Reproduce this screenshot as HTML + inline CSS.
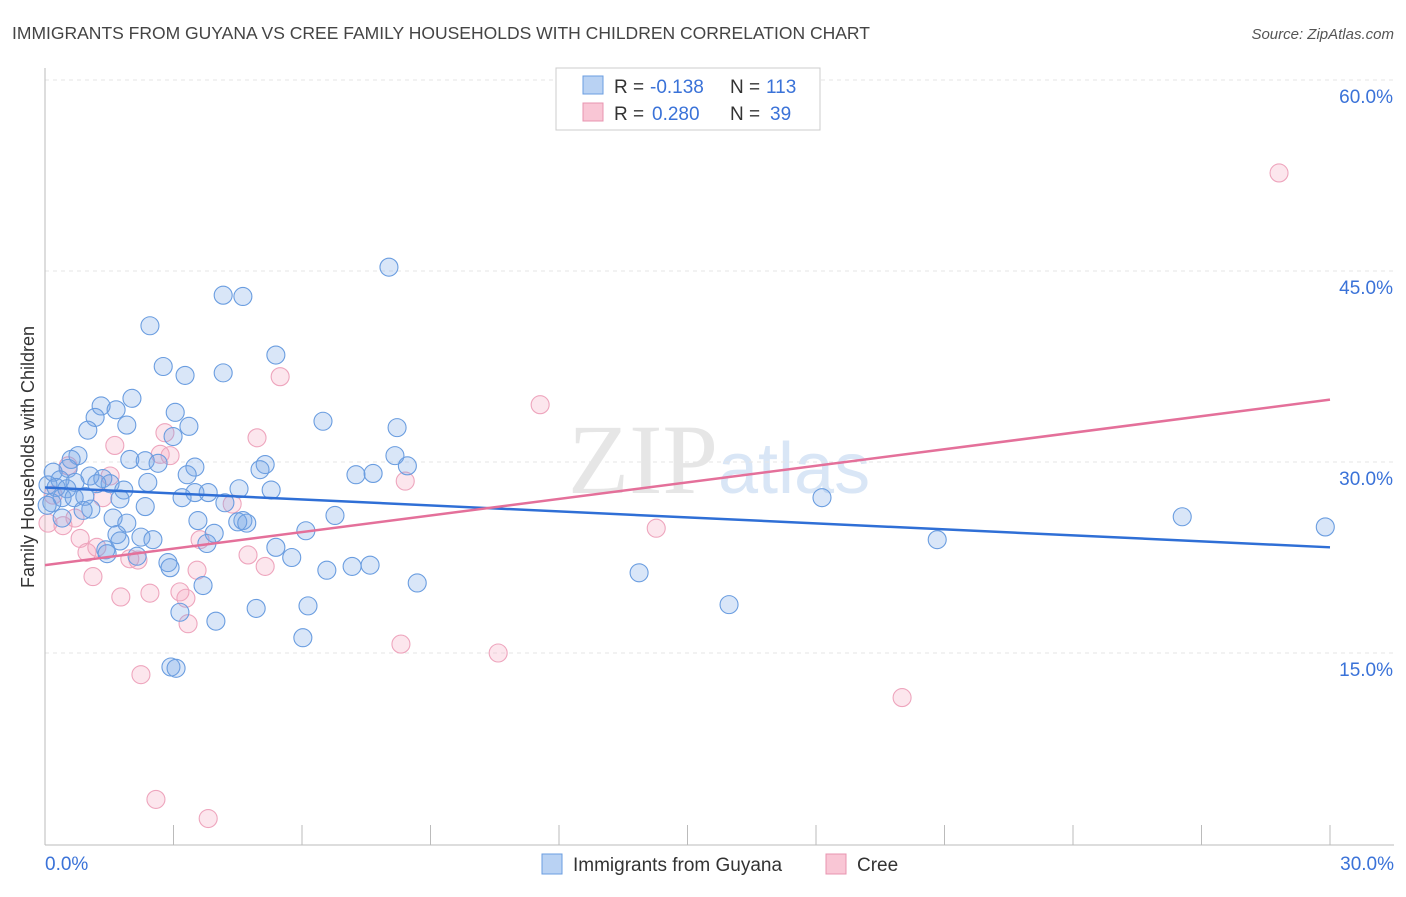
<!DOCTYPE html>
<html><head><meta charset="utf-8"><style>
body{margin:0;background:#fff;font-family:"Liberation Sans",sans-serif}
</style></head><body>
<svg width="1406" height="892" xmlns="http://www.w3.org/2000/svg" id="svg">
<text x="12" y="39" font-size="17.5" fill="#444">IMMIGRANTS FROM GUYANA VS CREE FAMILY HOUSEHOLDS WITH CHILDREN CORRELATION CHART</text>
<text x="1394" y="39" font-size="15" fill="#555" font-style="italic" text-anchor="end">Source: ZipAtlas.com</text>
<text x="718" y="493" font-size="100" fill="#e6e6e6" text-anchor="end" font-family="Liberation Serif">ZIP</text>
<text x="718" y="493" font-size="72" fill="#d9e6f6">atlas</text>
<text transform="translate(34,457) rotate(-90)" font-size="18" fill="#333" text-anchor="middle">Family Households with Children</text>
<g id="grid"></g><g id="pts"></g><g id="lines"></g>
<g font-size="19">
<rect x="556" y="68" width="264" height="62" fill="#fff" stroke="#ccc"/>
<rect x="583" y="76" width="20" height="18" fill="#b9d2f3" stroke="#6a9de0"/>
<rect x="583" y="103" width="20" height="18" fill="#f9c6d5" stroke="#e894b0"/>
<text x="614" y="93" fill="#333">R =</text><text x="650" y="93" fill="#3a72d8">-0.138</text>
<text x="730" y="93" fill="#333">N =</text><text x="766" y="93" fill="#3a72d8">113</text>
<text x="614" y="120" fill="#333">R =</text><text x="652" y="120" fill="#3a72d8">0.280</text>
<text x="730" y="120" fill="#333">N =</text><text x="770" y="120" fill="#3a72d8">39</text>
</g>
<g>
<rect x="542" y="854" width="20" height="20" fill="#b9d2f3" stroke="#6a9de0"/>
<text x="573" y="871" font-size="19" fill="#333">Immigrants from Guyana</text>
<rect x="826" y="854" width="20" height="20" fill="#f9c6d5" stroke="#e894b0"/>
<text x="857" y="871" font-size="19" fill="#333">Cree</text>
</g>
</svg>
<script>
const blueX=[8.03,4.16,4.62,2.45,5.39,2.76,3.27,4.16,2.03,1.31,1.66,3.04,1.17,1.00,1.91,3.36,6.49,8.22,2.99,0.77,0.61,1.98,2.34,2.64,8.17,8.46,0.54,5.14,5.02,3.50,3.32,7.26,7.66,1.05,1.35,0.19,0.35,0.70,1.52,2.40,0.07,0.26,0.51,1.21,1.84,4.53,5.28,3.50,3.81,3.20,0.40,0.68,0.93,1.75,0.16,18.14,0.05,1.07,0.89,2.34,4.20,1.59,0.40,6.77,26.55,3.57,4.62,4.50,4.71,1.91,29.89,6.09,3.95,1.68,2.24,2.52,1.75,3.78,20.83,5.39,1.42,1.45,2.15,5.76,2.87,2.92,6.58,7.17,7.59,13.87,3.69,8.69,6.14,4.93,15.97,3.15,3.99,6.02,2.94,3.06];
const blueY=[45.3,43.1,43.0,40.7,38.4,37.5,36.8,37.0,35.0,34.4,34.1,33.9,33.5,32.5,32.9,32.8,33.2,32.7,32.0,30.5,30.2,30.2,30.1,29.9,30.5,29.7,29.5,29.8,29.4,29.6,29.0,29.0,29.1,28.9,28.7,29.2,28.6,28.4,28.3,28.4,28.2,28.0,27.9,28.3,27.8,27.9,27.8,27.6,27.6,27.2,27.2,27.2,27.3,27.1,26.8,27.2,26.6,26.3,26.2,26.5,26.8,25.6,25.6,25.8,25.7,25.4,25.4,25.3,25.2,25.2,24.9,24.6,24.4,24.3,24.1,23.9,23.8,23.6,23.9,23.3,23.1,22.8,22.6,22.5,22.1,21.7,21.5,21.8,21.9,21.3,20.3,20.5,18.7,18.5,18.8,18.2,17.5,16.2,13.9,13.8];
const pinkX=[28.81,11.56,5.49,4.95,1.63,2.80,2.69,2.92,0.54,1.52,8.41,1.35,4.37,0.19,0.70,0.42,0.07,14.27,0.82,3.62,4.74,5.14,0.98,1.21,1.98,2.17,3.55,1.12,2.45,3.15,3.29,1.77,3.34,8.31,10.58,20.01,2.24,2.59,3.81];
const pinkY=[52.7,34.5,36.7,31.9,31.3,32.3,30.6,30.5,29.7,28.9,28.5,27.2,26.7,27.4,25.6,25.0,25.2,24.8,24.0,23.9,22.7,21.8,22.9,23.3,22.4,22.3,21.5,21.0,19.7,19.8,19.3,19.4,17.3,15.7,15.0,11.5,13.3,3.5,2.0];
const blueTrend=[28.0,23.3];
const pinkTrend=[21.9,34.9];
const yTicks=[15,30,45,60];
const xTickLabels=["0.0%","30.0%"];
const NS="http://www.w3.org/2000/svg";
const sx=v=>45+v/30*1285, sy=v=>844-v/15*191;
function mk(t,a,p){const e=document.createElementNS(NS,t);for(const k in a)e.setAttribute(k,a[k]);p.appendChild(e);return e;}
const svg=document.getElementById('svg'),grid=document.getElementById('grid'),pts=document.getElementById('pts'),lines=document.getElementById('lines');
yTicks.forEach(t=>{const l=mk('line',{x1:45,x2:1394,y1:sy(t),y2:sy(t),stroke:'#e6e6e6','stroke-dasharray':'4,4'},grid);


const tx=mk('text',{x:1393,y:sy(t)+23,'font-size':19,fill:'#3a72d8','text-anchor':'end'},grid);tx.textContent=t.toFixed(1)+'%';

});
const ax=mk('line',{x1:45,x2:45,y1:68,y2:845,stroke:'#bbb'},grid);


const bx=mk('line',{x1:45,x2:1394,y1:845,y2:845,stroke:'#bbb'},grid);


for(let i=0;i<=10;i++){const tk=mk('line',{x1:sx(i*3),x2:sx(i*3),y1:825,y2:845,stroke:'#bbb'},grid);

}
[[0,'start',45],[30,'end',1394]].forEach((d,i)=>{const t=mk('text',{x:d[2],y:870,'font-size':19,fill:'#3a72d8','text-anchor':d[1]},grid);t.textContent=xTickLabels[i];

});
pinkX.forEach((x,i)=>{const c=mk('circle',{cx:sx(x),cy:sy(pinkY[i]),r:9,fill:'rgba(244,165,190,0.28)',stroke:'#eea5bd','stroke-width':1.1},pts);

});
blueX.forEach((x,i)=>{const c=mk('circle',{cx:sx(x),cy:sy(blueY[i]),r:9,fill:'rgba(120,165,230,0.28)',stroke:'#6a9de0','stroke-width':1.1},pts);

});
const bl=mk('line',{x1:sx(0),x2:sx(30),y1:sy(blueTrend[0]),y2:sy(blueTrend[1]),stroke:'#2f6fd6','stroke-width':2.5},lines);


const pl=mk('line',{x1:sx(0),x2:sx(30),y1:sy(pinkTrend[0]),y2:sy(pinkTrend[1]),stroke:'#e4709a','stroke-width':2.5},lines);


</script>
</body></html>
